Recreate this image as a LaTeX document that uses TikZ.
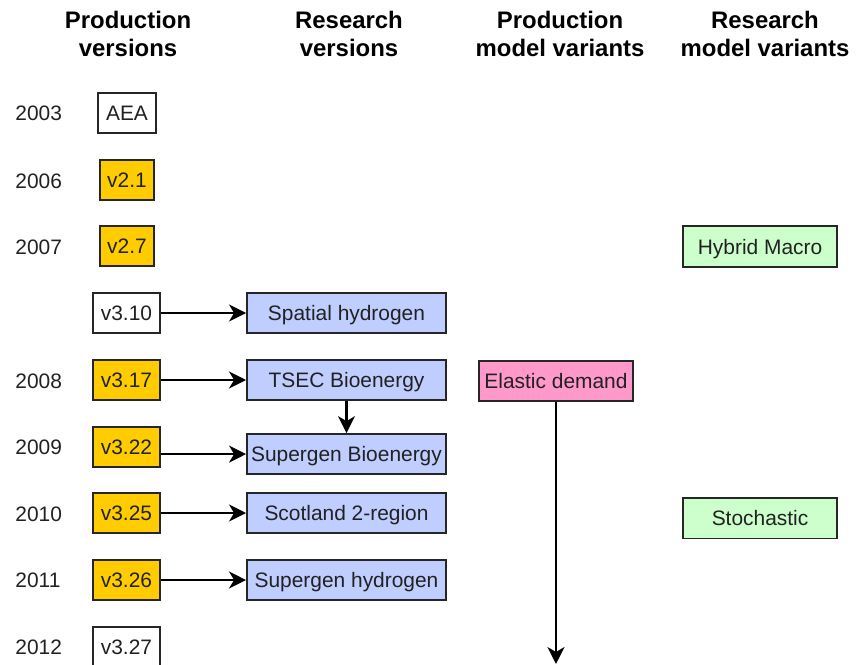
\documentclass[tikz,border=0pt]{standalone}
\usepackage{fontspec}
\setmainfont{Liberation Sans}
\usepackage{tikz}
\usetikzlibrary{arrows.meta}
\pgfdeclarelayer{bg}
\pgfsetlayers{bg,main}
\definecolor{gold}{RGB}{255,204,0}
\definecolor{lblue}{RGB}{191,205,255}
\definecolor{lpink}{RGB}{255,153,204}
\definecolor{lgreen}{RGB}{204,255,204}

\begin{document}
\begin{tikzpicture}[
        every node/.style={font=\fontsize{10.5}{12}\selectfont, text=black!87, inner sep=0pt},
        head/.style={font=\fontsize{12}{14}\selectfont\bfseries, text=black, align=center},
        year/.style={anchor=west, text height=7.6pt, text depth=0pt},
        box/.style={draw=black!85, line width=1pt, minimum height=0.706cm,
                text height=7.6pt, text depth=0pt},
        plain/.style={box, fill=white},
        prod/.style={box, fill=gold},
        res/.style={box, fill=lblue, minimum width=3.510cm},
        pvar/.style={box, fill=lpink, minimum width=2.716cm},
        rvar/.style={box, fill=lgreen, minimum width=2.716cm, minimum height=0.723cm},
        arr/.style={line width=1.1pt, -{Stealth[length=8.5pt, width=8.5pt, inset=2.5pt]}}]
        \useasboundingbox (0cm, 0cm) rectangle (15.240cm, -11.730cm);
        \clip (0cm, 0cm) rectangle (15.240cm, -11.730cm);
        % column heads
        \node (h0) [head] at (2.258cm, -0.600cm) {Production\\versions};
        \node (h1) [head] at (6.156cm, -0.600cm) {Research\\versions};
        \node (h2) [head] at (9.878cm, -0.600cm) {Production\\model variants};
        \node (h3) [head] at (13.494cm, -0.600cm) {Research\\model variants};
        % years
        \node (y0) [year] at (0.265cm, -1.993cm) {2003};
        \node (y1) [year] at (0.265cm, -3.193cm) {2006};
        \node (y2) [year] at (0.265cm, -4.357cm) {2007};
        \node (y3) [year] at (0.265cm, -6.720cm) {2008};
        \node (y4) [year] at (0.265cm, -7.885cm) {2009};
        \node (y5) [year] at (0.265cm, -9.066cm) {2010};
        \node (y6) [year] at (0.265cm, -10.231cm) {2011};
        \node (y7) [year] at (0.265cm, -11.412cm) {2012};
        % production versions
        \node (p0) [plain, minimum width=1.023cm] at (2.240cm, -1.993cm) {AEA};
        \node (p1) [prod, minimum width=0.952cm] at (2.240cm, -3.175cm) {v2.1};
        \node (p2) [prod, minimum width=0.952cm] at (2.240cm, -4.339cm) {v2.7};
        \node (p3) [plain, minimum width=1.182cm] at (2.231cm, -5.521cm) {v3.10};
        \node (p4) [prod, minimum width=1.182cm] at (2.231cm, -6.703cm) {v3.17};
        \node (p5) [prod, minimum width=1.182cm] at (2.231cm, -7.885cm) {v3.22};
        \node (p6) [prod, minimum width=1.182cm] at (2.231cm, -9.049cm) {v3.25};
        \node (p7) [prod, minimum width=1.182cm] at (2.231cm, -10.231cm) {v3.26};
        \node (p8) [plain, minimum width=1.182cm] at (2.231cm, -11.412cm) {v3.27};
        % research versions
        \node (r0) [res] at (6.112cm, -5.521cm) {Spatial hydrogen};
        \node (r1) [res] at (6.112cm, -6.703cm) {TSEC Bioenergy};
        \node (r2) [res] at (6.112cm, -8.010cm) {Supergen Bioenergy};
        \node (r3) [res] at (6.112cm, -9.049cm) {Scotland 2-region};
        \node (r4) [res] at (6.112cm, -10.231cm) {Supergen hydrogen};
        % model variants
        \node (m0) [pvar] at (9.807cm, -6.712cm) {Elastic demand};
        \coordinate (e0) at (9.807cm, -11.712cm);
        \node (s0) [rvar] at (13.406cm, -4.348cm) {Hybrid Macro};
        \node (s1) [rvar] at (13.406cm, -9.137cm) {Stochastic};
        \begin{pgfonlayer}{bg}
                \draw (p3) edge [arr] (r0);
                \draw (p4) edge [arr] (r1);
                \draw (r1) edge [arr] (r2);
                \draw (p5.east |- r2) edge [arr] (r2);
                \draw (p6) edge [arr] (r3);
                \draw (p7) edge [arr] (r4);
                \draw (m0) edge [arr] (e0);
        \end{pgfonlayer}
\end{tikzpicture}
\end{document}
